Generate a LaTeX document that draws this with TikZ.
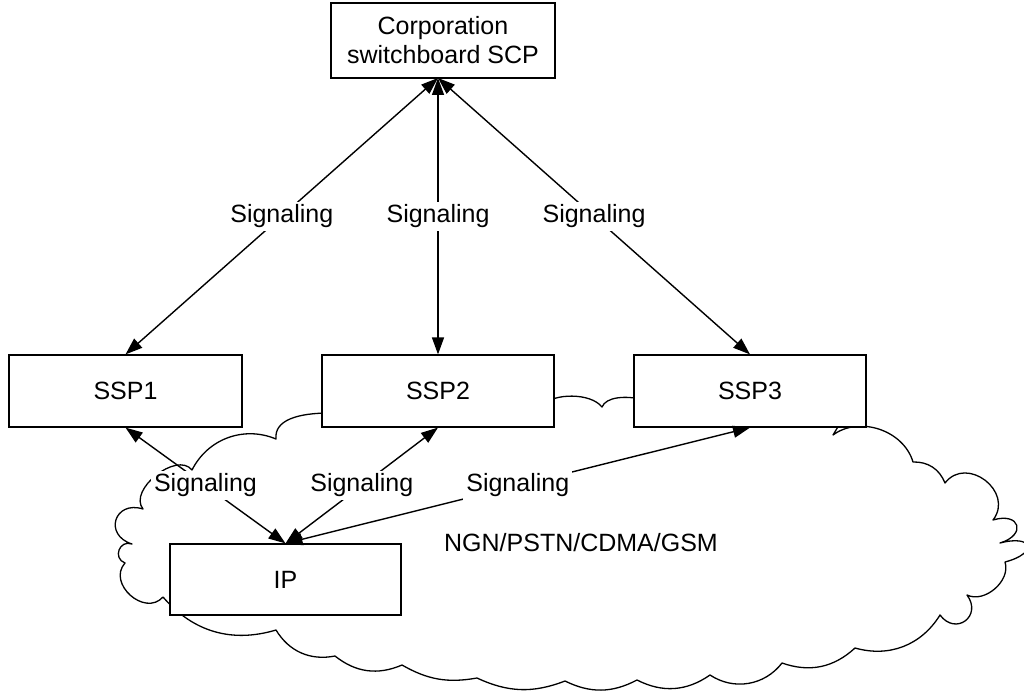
\documentclass[tikz,border=0pt]{standalone}
\usepackage{fontspec}
\setmainfont{Liberation Sans}
\usetikzlibrary{arrows.meta}
\begin{document}
\begin{tikzpicture}[x=1pt,y=-1pt,
  every node/.style={font=\fontsize{25}{29}\selectfont},
  box/.style={draw, line width=1.2pt, fill=white, inner sep=0pt, align=center},
  lbl/.style={fill=white, inner sep=3pt},
  link/.style={line width=1.4pt, {Triangle[length=17pt,width=12pt]}-{Triangle[length=17pt,width=12pt]}},
  cloudline/.style={line width=1.3pt, line join=round}]
\useasboundingbox (0,0) rectangle (1024,692);
% cloud
\draw[cloudline] (845,415) -- (833,435)
 to[bend left=55] (913,462)
 to[bend left=35] (945,483)
 to[bend left=90,looseness=1.5] (993,520)
 to[bend left=90,looseness=3] (1000,543)
 to[bend left=90,looseness=4.5] (1005,562)
 to[bend left=67] (967,595)
 to[bend left=90,looseness=2] (940,615)
 to[bend left=37] (855,648)
 to[bend left=31] (782,663)
 to[bend left=43] (710,675)
 to[bend left=31] (637,680)
 to[bend left=27] (565,681)
 to[bend left=23] (477,678)
 to[bend left=20] (402,665)
 to[bend left=31] (335,656)
 to[bend left=35] (276,630)
 to[bend left=33] (163,597)
 to[bend left=90,looseness=1.37] (125,563)
 to[bend left=90,looseness=1.7] (132,544)
 to[bend left=90,looseness=2.1] (143,509)
 to[bend left=90] (192,470)
 to[bend left=43] (276,439)
 .. controls (274,420) and (298,413) .. (330,413)
 -- (545,404)
 .. controls (553,394) and (590,392) .. (602,407)
 .. controls (606,397) and (625,395) .. (645,400)
 -- cycle;
% boxes
\node[box, minimum width=224pt, minimum height=75pt] (scp) at (443,40.5) {Corporation\\switchboard SCP};
\node[box, minimum width=233pt, minimum height=72pt] (ssp1) at (125.5,391) {SSP1};
\node[box, minimum width=232pt, minimum height=72pt] (ssp2) at (438,391) {SSP2};
\node[box, minimum width=232pt, minimum height=72pt] (ssp3) at (750,391) {SSP3};
\node[box, minimum width=231pt, minimum height=71pt] (ip) at (285.5,579.5) {IP};
\node (net) at (581,543) {NGN/PSTN/CDMA/GSM};
\coordinate (scpb) at (438,78);
% connectors
\draw[link] (scpb) -- (ssp1.north) node[lbl, midway] {Signaling};
\draw[link] (scpb) -- (ssp2.north) node[lbl, midway] {Signaling};
\draw[link] (scpb) -- (ssp3.north) node[lbl, midway] {Signaling};
\draw[link] (ssp1.south) -- (ip.north) node[lbl, midway] {Signaling};
\draw[link] (ssp2.south) -- (ip.north) node[lbl, midway] {Signaling};
\draw[link] (ssp3.south) -- (ip.north) node[lbl, midway] {Signaling};
\end{tikzpicture}
\end{document}
